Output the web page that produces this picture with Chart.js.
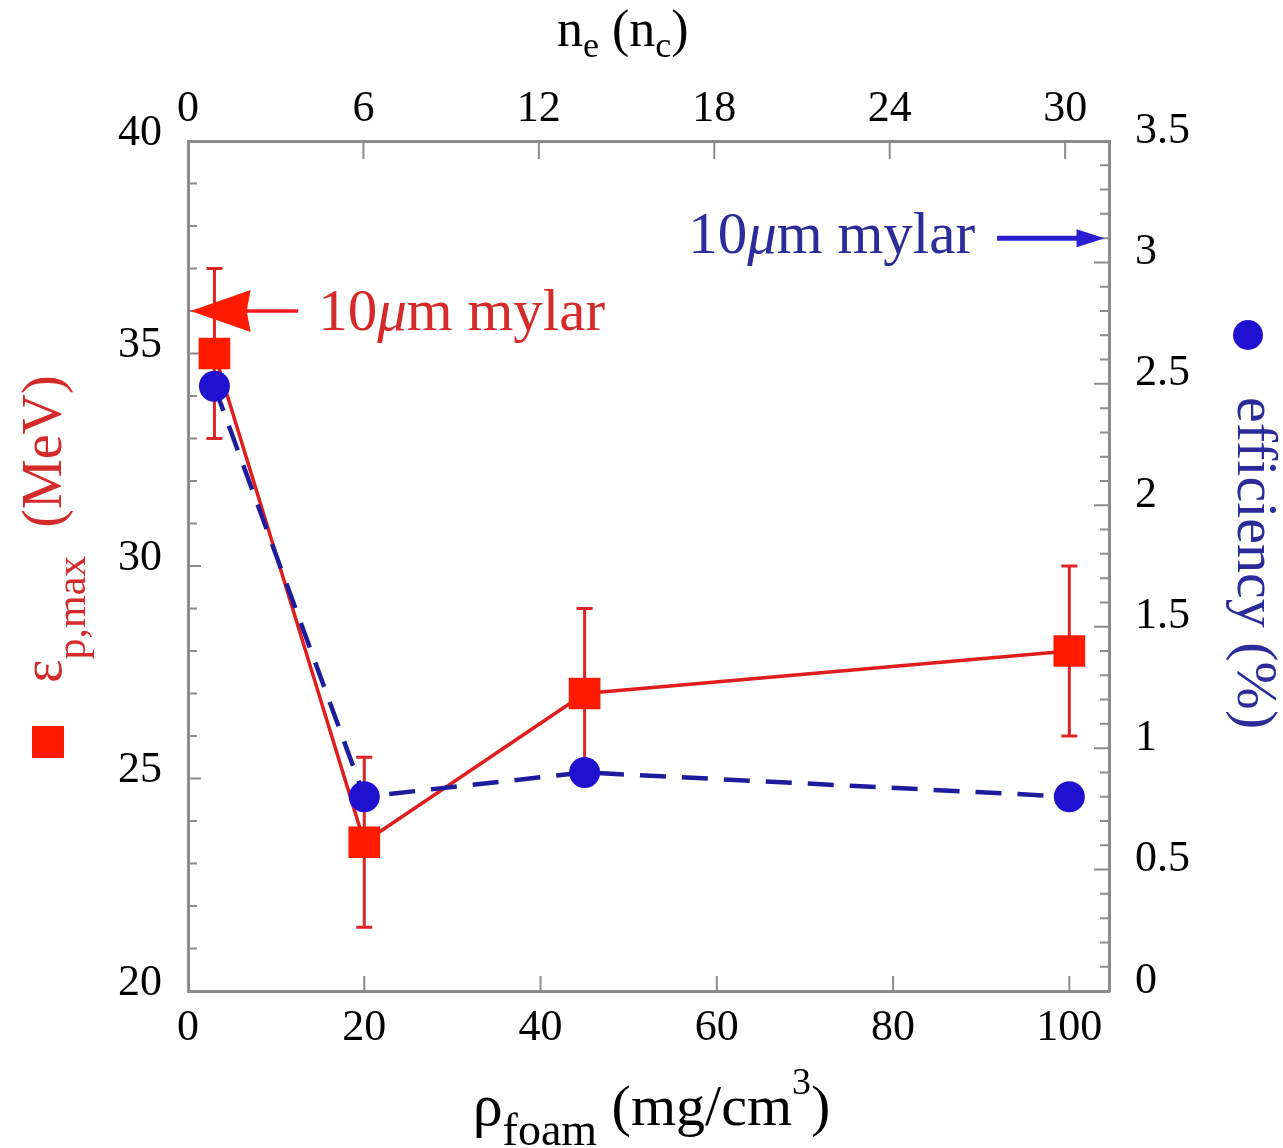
<!DOCTYPE html>
<html><head><meta charset="utf-8">
<script src="https://cdn.jsdelivr.net/npm/chart.js@4/dist/chart.umd.min.js"></script>
<style>html,body{margin:0;padding:0;background:#fff;overflow:hidden}canvas{display:block}</style>
</head><body>
<canvas id="c" width="1283" height="1148"></canvas>
<script>
// ---- data ----
const foamDensity   = [3, 20, 45, 100];          // mg/cm3
const protonEnergy  = [35, 23.5, 27, 28];        // MeV
const energyErrLow  = [33, 21.5, 25, 26];
const energyErrHigh = [37, 25.5, 29, 30];
const efficiency    = [2.49, 0.80, 0.90, 0.80];  // %

// ---- tick labels ----
const bottomTicks = [0, 20, 40, 60, 80, 100];
const topTicks    = [0, 6, 12, 18, 24, 30];
const leftTicks   = [20, 25, 30, 35, 40];
const rightTicks  = [0, 0.5, 1, 1.5, 2, 2.5, 3, 3.5];
const rightTickLabels = ['0', '0.5', '1', '1.5', '2', '2.5', '3', '3.5'];

// ---- reference (10 um mylar) levels ----
const mylarEnergy = 36;      // left axis
const mylarEfficiency = 3.1; // right axis

const SERIF = '"Liberation Serif","Times New Roman",serif';
const RED_TXT = '#d42a2a', BLUE_TXT = '#2b2b9a';

function partsWidth(ctx, parts){
  let w = 0;
  for (const p of parts){ ctx.font = (p.italic?'italic ':'') + p.size + 'px ' + SERIF; w += ctx.measureText(p.t).width; }
  return w;
}
function drawParts(ctx, parts, x, y){
  let cx = x;
  for (const p of parts){
    ctx.font = (p.italic?'italic ':'') + p.size + 'px ' + SERIF;
    ctx.fillText(p.t, cx, y + (p.dy||0));
    cx += ctx.measureText(p.t).width;
  }
}

const tickPlugin = {
  id: 'inTicks',
  beforeDatasetsDraw(chart){
    const {ctx, chartArea: ca, scales} = chart;
    ctx.save();
    ctx.strokeStyle = '#8c8c8c';
    ctx.lineWidth = 2;
    ctx.beginPath();
    for (let v = 20; v <= 40; v += 1){
      const py = scales.y.getPixelForValue(v);
      const L = (v % 5 === 0) ? 13 : 9;
      ctx.moveTo(ca.left, py); ctx.lineTo(ca.left + L, py);
    }
    for (let i = 0; i <= 35; i++){
      const py = scales.y2.getPixelForValue(i / 10);
      const L = (i % 5 === 0) ? 15 : 9;
      ctx.moveTo(ca.right, py); ctx.lineTo(ca.right - L, py);
    }
    for (const v of bottomTicks){
      const px = scales.x.getPixelForValue(v);
      ctx.moveTo(px, ca.bottom); ctx.lineTo(px, ca.bottom - 15);
    }
    for (const v of topTicks){
      const px = scales.x2.getPixelForValue(v);
      ctx.moveTo(px, ca.top); ctx.lineTo(px, ca.top + 18);
    }
    ctx.stroke();

    // error bars
    ctx.strokeStyle = '#dd2424';
    ctx.lineWidth = 3;
    ctx.beginPath();
    foamDensity.forEach((xv, i) => {
      const px = scales.x.getPixelForValue(xv);
      const y1 = scales.y.getPixelForValue(energyErrLow[i]);
      const y2 = scales.y.getPixelForValue(energyErrHigh[i]);
      ctx.moveTo(px, y1); ctx.lineTo(px, y2);
      ctx.moveTo(px - 8, y1); ctx.lineTo(px + 8, y1);
      ctx.moveTo(px - 8, y2); ctx.lineTo(px + 8, y2);
    });
    ctx.stroke();
    ctx.restore();
  },
  afterDraw(chart){
    const {ctx, chartArea: ca, scales} = chart;
    ctx.save();
    ctx.textBaseline = 'alphabetic';
    ctx.textAlign = 'left';

    const mylarParts = [{t:'10',size:59},{t:'\u03BC',size:59,italic:true},{t:'m mylar',size:59}];

    // red arrow (pointing to left axis)
    const ry = scales.y.getPixelForValue(mylarEnergy);
    const rTail = scales.x.getPixelForValue(12.5);
    const rTip = scales.x.getPixelForValue(0.3);
    ctx.strokeStyle = '#ee1c1c'; ctx.fillStyle = '#ff1a00'; ctx.lineWidth = 3.5;
    ctx.beginPath(); ctx.moveTo(rTail, ry); ctx.lineTo(rTip + 50, ry); ctx.stroke();
    ctx.beginPath(); ctx.moveTo(rTip, ry); ctx.lineTo(rTip + 60, ry - 21); ctx.lineTo(rTip + 56, ry); ctx.lineTo(rTip + 60, ry + 21); ctx.closePath(); ctx.fill();
    ctx.fillStyle = RED_TXT;
    drawParts(ctx, mylarParts, rTail + 20, ry + 19);

    // blue arrow (pointing to right axis)
    const by = scales.y2.getPixelForValue(mylarEfficiency);
    const bTail = scales.x.getPixelForValue(91.8);
    const bTip = scales.x.getPixelForValue(104);
    ctx.strokeStyle = '#2a1fd0'; ctx.fillStyle = '#2a1fd0'; ctx.lineWidth = 5;
    ctx.beginPath(); ctx.moveTo(bTail, by); ctx.lineTo(bTip - 20, by); ctx.stroke();
    ctx.beginPath(); ctx.moveTo(bTip, by); ctx.lineTo(bTip - 28, by - 9); ctx.lineTo(bTip - 28, by + 9); ctx.closePath(); ctx.fill();
    ctx.fillStyle = BLUE_TXT;
    drawParts(ctx, mylarParts, bTail - 22 - partsWidth(ctx, mylarParts), by + 15);

    // bottom title
    ctx.fillStyle = '#000';
    const botParts = [{t:'\u03C1',size:60},{t:'foam',size:46,dy:20},{t:' (mg/cm',size:58},{t:'3',size:38,dy:-31},{t:')',size:58}];
    const bw = partsWidth(ctx, botParts);
    drawParts(ctx, botParts, (ca.left + ca.right)/2 + 3 - bw/2, ca.bottom + 134);

    // top title
    const topParts = [{t:'n',size:52},{t:'e',size:36,dy:11},{t:' (n',size:52},{t:'c',size:36,dy:11},{t:')',size:52}];
    drawParts(ctx, topParts, 557, ca.top - 95);

    // left title (rotated)
    ctx.fillStyle = '#ff1a00';
    ctx.fillRect(32, 726, 32, 32);
    ctx.save();
    ctx.translate(61, 683);
    ctx.rotate(-Math.PI/2);
    ctx.fillStyle = RED_TXT;
    drawParts(ctx, [{t:'\u03B5',size:56},{t:'p,max',size:42,dy:24},{t:'  (MeV)',size:56}], 0, 0);
    ctx.restore();

    // right title (rotated)
    ctx.fillStyle = '#2010d0';
    ctx.beginPath(); ctx.arc(1248, 335, 15, 0, Math.PI*2); ctx.fill();
    ctx.save();
    ctx.translate(1238, 397);
    ctx.rotate(Math.PI/2);
    ctx.fillStyle = BLUE_TXT;
    drawParts(ctx, [{t:'efficiency (%)',size:58}], 0, 0);
    ctx.restore();

    ctx.restore();
  }
};

const tickFont = {family: SERIF, size: 44};
const borderCfg = {display: true, color: '#8c8c8c', width: 3};
const gridCfg = {drawOnChartArea: false, drawTicks: false};

new Chart(document.getElementById('c'), {
  type: 'line',
  data: {
    datasets: [
      {
        label: 'efficiency (%)',
        data: foamDensity.map((x, i) => ({x, y: efficiency[i]})),
        yAxisID: 'y2', xAxisID: 'x',
        borderColor: '#1c1c9c', borderWidth: 4.5, borderDash: [26, 16],
        pointStyle: 'circle', pointRadius: 15.5, pointHoverRadius: 15.5,
        pointBackgroundColor: '#2010d0', pointBorderColor: '#2010d0', pointBorderWidth: 0,
        tension: 0, fill: false, order: 1
      },
      {
        label: 'εp,max (MeV)',
        data: foamDensity.map((x, i) => ({x, y: protonEnergy[i]})),
        yAxisID: 'y', xAxisID: 'x',
        borderColor: '#e01e1e', borderWidth: 3.5,
        pointStyle: 'rect', pointRadius: 22.4, pointHoverRadius: 22.4,
        pointBackgroundColor: '#ff1a00', pointBorderColor: '#ff1a00', pointBorderWidth: 0,
        tension: 0, fill: false, order: 2
      }
    ]
  },
  options: {
    responsive: false,
    animation: false,
    devicePixelRatio: 1,
    layout: {padding: 0},
    plugins: {legend: {display: false}, tooltip: {enabled: false}},
    scales: {
      x: {
        type: 'linear', position: 'bottom', min: 0, max: 104.5,
        afterBuildTicks: s => { s.ticks = bottomTicks.map(v => ({value: v})); },
        afterFit: s => { s.height = 157; },
        ticks: {font: tickFont, color: '#000', padding: 11, maxRotation: 0, autoSkip: false},
        grid: gridCfg, border: borderCfg
      },
      x2: {
        type: 'linear', position: 'top', min: 0, max: 31.5,
        afterBuildTicks: s => { s.ticks = topTicks.map(v => ({value: v})); },
        afterFit: s => { s.height = 141; },
        ticks: {font: tickFont, color: '#000', padding: 5, maxRotation: 0, autoSkip: false},
        grid: gridCfg, border: borderCfg
      },
      y: {
        type: 'linear', position: 'left', min: 20, max: 40,
        afterBuildTicks: s => { s.ticks = leftTicks.map(v => ({value: v})); },
        afterFit: s => { s.width = 188; },
        ticks: {font: tickFont, color: '#000', padding: 26, labelOffset: -8, autoSkip: false},
        grid: gridCfg, border: borderCfg
      },
      y2: {
        type: 'linear', position: 'right', min: 0, max: 3.5,
        afterBuildTicks: s => { s.ticks = rightTicks.map(v => ({value: v})); },
        afterFit: s => { s.width = 174; },
        ticks: {font: tickFont, color: '#000', padding: 26, labelOffset: -10, autoSkip: false,
          callback: (v, i) => rightTickLabels[i]},
        grid: gridCfg, border: borderCfg
      }
    }
  },
  plugins: [tickPlugin]
});
</script>
</body></html>
